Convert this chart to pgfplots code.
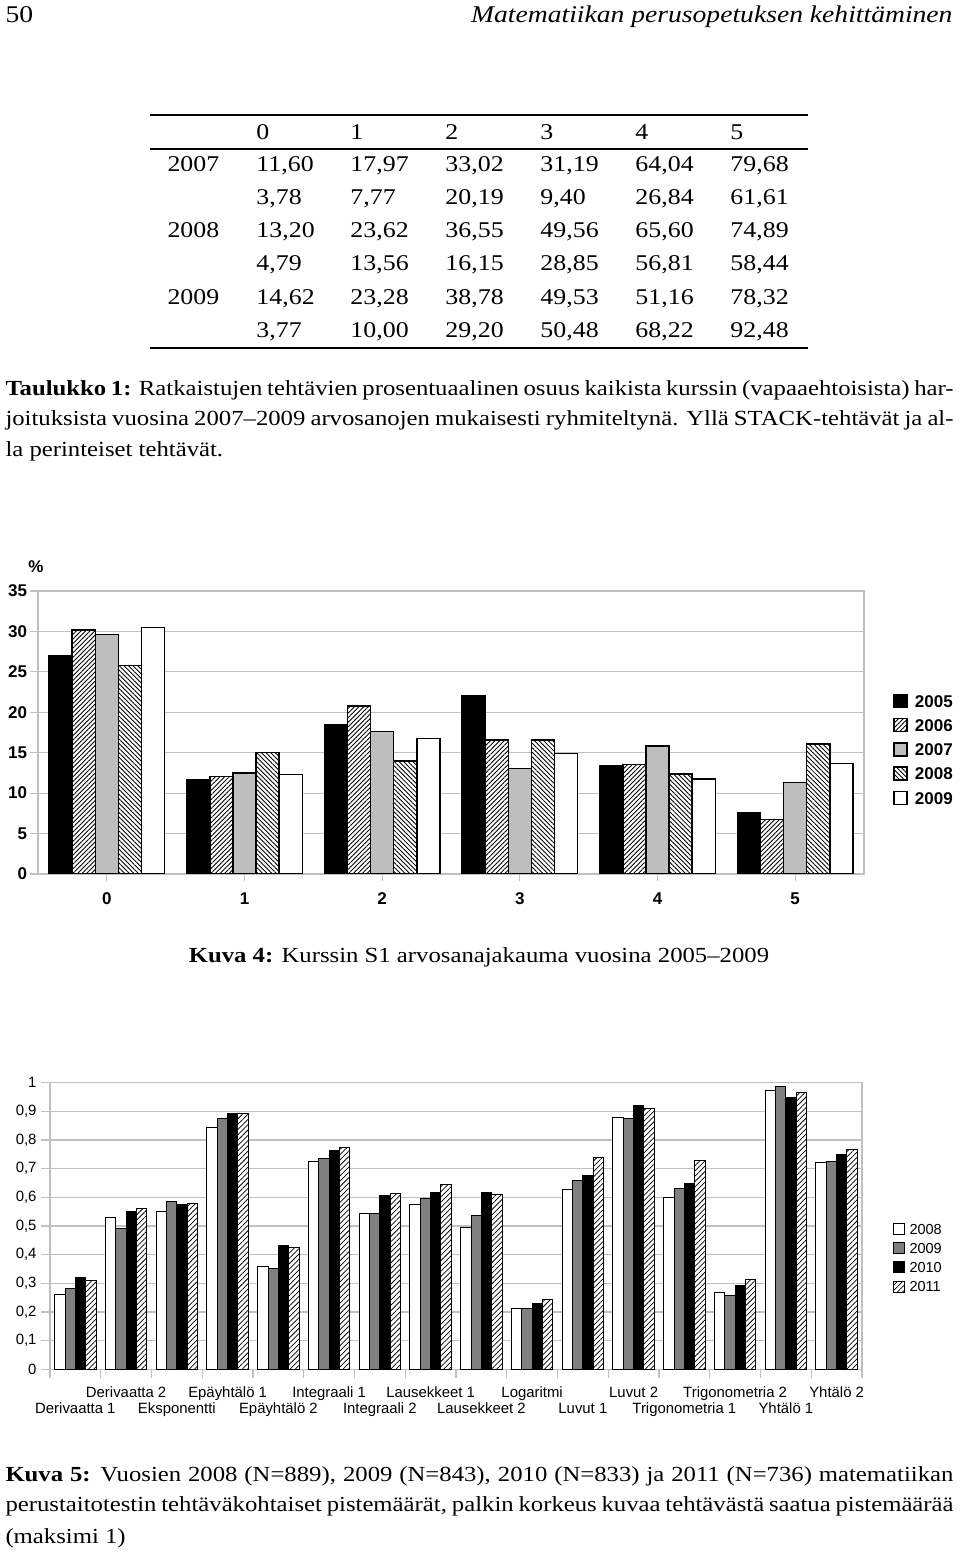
\documentclass[border=0pt]{standalone}
\usepackage{fontspec}
\setmainfont{Liberation Serif}[FakeStretch=1.15]
\newfontfamily\arial{Liberation Sans}
\usepackage{pgfplots}
\pgfplotsset{compat=1.18}
\usetikzlibrary{patterns.meta}
\definecolor{gridgray}{RGB}{192,192,192}
\definecolor{lgray}{RGB}{190,190,190}
\definecolor{mgray}{RGB}{128,128,128}
\tikzset{cell/.style={anchor=base west, inner sep=0pt, font=\fontsize{9}{11}\selectfont}}
\newcommand\trow[8]{%
  \node[cell] at (167,#1) {#2};
  \node[cell] at (256,#1) {#3};
  \node[cell] at (350,#1) {#4};
  \node[cell] at (445,#1) {#5};
  \node[cell] at (540,#1) {#6};
  \node[cell] at (635,#1) {#7};
  \node[cell] at (730,#1) {#8};}
\newcommand\capfont{\fontsize{8.6}{10}\selectfont}
\begin{document}
\begin{tikzpicture}
\path (0pt,0pt) rectangle (384pt,621.2pt);
\begin{scope}[x=0.4pt,y=0.4pt]
% header
\node[anchor=base west, inner sep=0pt, font=\fontsize{9.6}{11}\selectfont] at (5,1531) {50};
\node[anchor=base east, inner sep=0pt, font=\fontsize{9.6}{11}\selectfont\itshape] at (953,1531) {Matematiikan perusopetuksen kehittäminen};
% table
\draw[line width=0.8pt] (150,1438) -- (808,1438);
\draw[line width=0.5pt] (150,1404) -- (808,1404);
\draw[line width=0.8pt] (150,1205) -- (808,1205);
\trow{1413.5}{}{0}{1}{2}{3}{4}{5}
\trow{1382}{2007}{11,60}{17,97}{33,02}{31,19}{64,04}{79,68}
\trow{1348.7}{}{3,78}{7,77}{20,19}{9,40}{26,84}{61,61}
\trow{1315.4}{2008}{13,20}{23,62}{36,55}{49,56}{65,60}{74,89}
\trow{1282.1}{}{4,79}{13,56}{16,15}{28,85}{56,81}{58,44}
\trow{1248.8}{2009}{14,62}{23,28}{38,78}{49,53}{51,16}{78,32}
\trow{1215.5}{}{3,77}{10,00}{29,20}{50,48}{68,22}{92,48}
% caption 1
\node[anchor=base west, inner sep=0pt, font=\capfont] at (5,1158) {\makebox[379.2pt][s]{\textbf{Taulukko 1:} Ratkaistujen tehtävien prosentuaalinen osuus kaikista kurssin (vapaaehtoisista) har-}};
\node[anchor=base west, inner sep=0pt, font=\capfont] at (5,1128) {\makebox[379.2pt][s]{joituksista vuosina 2007–2009 arvosanojen mukaisesti ryhmiteltynä. Yllä STACK-tehtävät ja al-}};
\node[anchor=base west, inner sep=0pt, font=\capfont] at (5,1097) {la perinteiset tehtävät.};
% chart 1 unit label
\node[anchor=center, inner sep=0pt, font=\arial\bfseries\fontsize{6.8}{7}\selectfont] at (36,986) {\%};
% caption 2
\node[anchor=base, inner sep=0pt, font=\capfont] at (479,591) {\textbf{Kuva 4:} Kurssin S1 arvosanajakauma vuosina 2005–2009};
% caption 3
\node[anchor=base west, inner sep=0pt, font=\capfont] at (5,71) {\makebox[379.2pt][s]{\textbf{Kuva 5:} Vuosien 2008 (N=889), 2009 (N=843), 2010 (N=833) ja 2011 (N=736) matematiikan}};
\node[anchor=base west, inner sep=0pt, font=\capfont] at (5,41) {\makebox[379.2pt][s]{perustaitotestin tehtäväkohtaiset pistemäärät, palkin korkeus kuvaa tehtävästä saatua pistemäärää}};
\node[anchor=base west, inner sep=0pt, font=\capfont] at (5,10) {(maksimi 1)};
\end{scope}

% ---------- Chart 1 ----------
\begin{axis}[
  at={(15.2pt,271.6pt)}, anchor=south west, scale only axis,
  width=330.4pt, height=113.2pt,
  xmin=-0.5, xmax=5.5, ymin=0, ymax=35,
  ybar=0pt, bar width=0.168,
  xtick={0,1,2,3,4,5}, ytick={0,5,10,15,20,25,30,35},
  xtick pos=bottom, ytick pos=left,
  tick align=outside, major tick length=3pt,
  axis line style={gridgray, line width=0.5pt},
  tick style={gridgray, line width=0.5pt},
  ymajorgrids, grid style={gridgray, line width=0.5pt},
  /pgf/number format/assume math mode=true,
  ticklabel style={font=\arial\bfseries\fontsize{6.8}{7}\selectfont, inner sep=0pt},
  xticklabel style={anchor=north, yshift=-4.2pt},
  yticklabel style={anchor=east, xshift=-1.2pt},
  legend image code/.code={\draw[#1] (0pt,-2.6pt) rectangle (5.2pt,2.6pt); \path (8pt,0pt);},
  legend style={at={(axis description cs:1.035,0.44)}, anchor=west, draw=none, fill=none, inner sep=0pt, row sep=3.9pt, font=\arial\bfseries\fontsize{6.8}{7}\selectfont, nodes={inner sep=0pt, text height=5pt, text depth=0pt}},
  legend cell align=left,
]
\addplot[draw=black, fill=black, line width=0.6pt] coordinates {(0,27.0) (1,11.6) (2,18.45) (3,22.0) (4,13.4) (5,7.55)};
\addplot[draw=black, line width=0.6pt, preaction={fill=white}, pattern={Lines[angle=45,distance=1.3pt,line width=0.35pt]}] coordinates {(0,30.2) (1,12.05) (2,20.75) (3,16.6) (4,13.55) (5,6.75)};
\addplot[draw=black, fill=lgray, line width=0.6pt] coordinates {(0,29.6) (1,12.5) (2,17.65) (3,13.05) (4,15.85) (5,11.3)};
\addplot[draw=black, line width=0.6pt, preaction={fill=white}, pattern={Lines[angle=-45,distance=1.3pt,line width=0.35pt]}] coordinates {(0,25.8) (1,15.0) (2,13.95) (3,16.6) (4,12.35) (5,16.05)};
\addplot[draw=black, fill=white, line width=0.6pt] coordinates {(0,30.5) (1,12.3) (2,16.75) (3,14.9) (4,11.75) (5,13.65)};
\legend{2005,2006,2007,2008,2009}
\end{axis}

% ---------- Chart 2 ----------
\begin{axis}[
  at={(20pt,73.48pt)}, anchor=south west, scale only axis,
  width=324.8pt, height=114.64pt,
  xmin=-0.5, xmax=15.5, ymin=0, ymax=1,
  ybar=0pt, bar width=0.204,
  xtick={0,...,15},
  xticklabels={{\phantom{X}\\Derivaatta 1},{Derivaatta 2\\\phantom{X}},{\phantom{X}\\Eksponentti},{Epäyhtälö 1\\\phantom{X}},{\phantom{X}\\Epäyhtälö 2},{Integraali 1\\\phantom{X}},{\phantom{X}\\Integraali 2},{Lausekkeet 1\\\phantom{X}},{\phantom{X}\\Lausekkeet 2},{Logaritmi\\\phantom{X}},{\phantom{X}\\Luvut 1},{Luvut 2\\\phantom{X}},{\phantom{X}\\Trigonometria 1},{Trigonometria 2\\\phantom{X}},{\phantom{X}\\Yhtälö 1},{Yhtälö 2\\\phantom{X}}},
  ytick={0,0.1,0.2,0.3,0.4,0.5,0.6,0.7,0.8,0.9,1},
  minor xtick={-0.5,0.5,...,15.5},
  minor ytick={0,0.1,0.2,0.3,0.4,0.5,0.6,0.7,0.8,0.9,1},
  major tick length=0pt, minor tick length=3.4pt,
  major tick style={draw=none},
  xtick pos=bottom, ytick pos=left,
  tick align=outside,
  axis line style={gridgray, line width=0.5pt},
  tick style={gridgray, line width=0.5pt},
  ymajorgrids, grid style={gridgray, line width=0.5pt},
  /pgf/number format/assume math mode=true,
  /pgf/number format/use comma,
  ticklabel style={font=\arial\fontsize{5.96}{6.5}\selectfont, inner sep=0pt},
  xticklabel style={anchor=north, align=center, yshift=-6.8pt},
  yticklabel style={anchor=east, xshift=-5.2pt},
  legend image code/.code={\draw[#1] (0pt,-2.2pt) rectangle (4.4pt,2.2pt); \path (6.4pt,0pt);},
  legend style={at={(axis description cs:1.037,0.389)}, anchor=west, draw=none, fill=none, inner sep=0pt, row sep=2.9pt, font=\arial\fontsize{5.8}{6}\selectfont, nodes={inner sep=0pt, text height=4.2pt, text depth=0pt}},
  legend cell align=left,
]
\addplot[draw=black, fill=white, line width=0.4pt] coordinates {(0,0.262) (1,0.530) (2,0.549) (3,0.844) (4,0.358) (5,0.724) (6,0.542) (7,0.574) (8,0.494) (9,0.212) (10,0.628) (11,0.879) (12,0.599) (13,0.269) (14,0.974) (15,0.720)};
\addplot[draw=black, fill=mgray, line width=0.4pt] coordinates {(0,0.281) (1,0.493) (2,0.584) (3,0.876) (4,0.352) (5,0.734) (6,0.542) (7,0.595) (8,0.535) (9,0.212) (10,0.660) (11,0.874) (12,0.630) (13,0.259) (14,0.988) (15,0.726)};
\addplot[draw=black, fill=black, line width=0.4pt] coordinates {(0,0.321) (1,0.549) (2,0.574) (3,0.892) (4,0.431) (5,0.765) (6,0.605) (7,0.617) (8,0.617) (9,0.230) (10,0.676) (11,0.922) (12,0.649) (13,0.291) (14,0.947) (15,0.750)};
\addplot[draw=black, line width=0.4pt, preaction={fill=white}, pattern={Lines[angle=45,distance=1.5pt,line width=0.3pt]}] coordinates {(0,0.309) (1,0.560) (2,0.577) (3,0.893) (4,0.426) (5,0.774) (6,0.613) (7,0.645) (8,0.610) (9,0.242) (10,0.740) (11,0.910) (12,0.729) (13,0.314) (14,0.966) (15,0.767)};
\legend{2008,2009,2010,2011}
\end{axis}
\end{tikzpicture}
\end{document}
